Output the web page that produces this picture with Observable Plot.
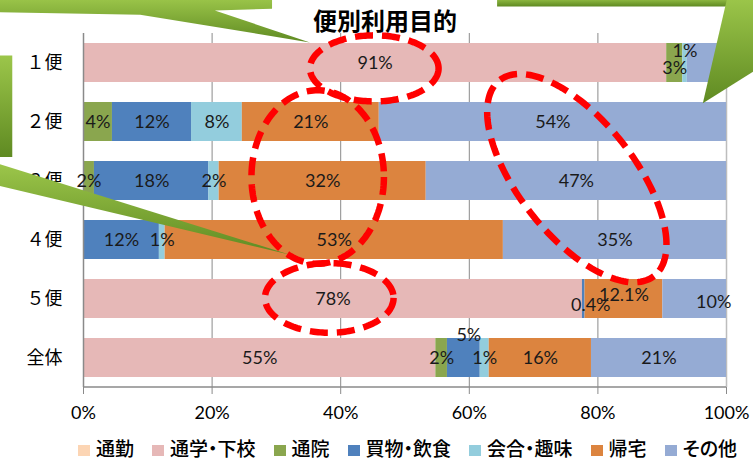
<!DOCTYPE html>
<html><head><meta charset="utf-8">
<script src="https://cdn.jsdelivr.net/npm/d3@7"></script>
<script src="https://cdn.jsdelivr.net/npm/@observablehq/plot@0.6"></script>
<style>
body{margin:0;background:#fff;}
#wrap{position:relative;width:753px;height:463px;}
#legend{position:absolute;left:78px;top:438px;display:flex;align-items:center;font-family:"Noto Sans CJK JP",sans-serif;font-size:19px;line-height:20px;font-weight:500;color:#000;white-space:nowrap;font-feature-settings:"palt";}
#legend .it{display:flex;align-items:center;margin-right:18px;height:20px;}
#legend .it span{display:block;height:20px;line-height:20px;}
#legend .sw{width:12px;height:11px;margin-right:6px;margin-top:4px;}
</style></head>
<body><div id="wrap"></div>
<script>
const title = "便別利用目的";
const rows = ["１便","２便","３便","４便","５便","全体"];
const categories = ["通勤","通学・下校","通院","買物・飲食","会合・趣味","帰宅","その他"];
const colors = ["#fcd5b4","#e6b8b7","#8aa64e","#4f81bd","#93cddd","#dc843f","#95abd4"];
const xTicks = [0,20,40,60,80,100];

// values (%) per category, in row order
const commute  = [0,0,0,0,0,0];
const school   = [90.7,0,0,0,77.6,54.8];
const hospital = [2.5,4.5,1.7,0,0,1.8];
const shopping = [0,12.3,17.8,11.8,0.4,5.1];
const hobby    = [0.7,7.9,1.6,0.9,0,1.4];
const home     = [0,21.3,32.2,52.6,12.1,15.9];
const other    = [6.1,54.0,46.7,34.7,9.9,21.0];

// data labels as printed
const commuteLbl  = ["","","","","",""];
const schoolLbl   = ["91%","","","","78%","55%"];
const hospitalLbl = ["3%","4%","2%","","","2%"];
const shoppingLbl = ["","12%","18%","12%","0.4%","5%"];
const hobbyLbl    = ["1%","8%","2%","1%","","1%"];
const homeLbl     = ["","21%","32%","53%","12.1%","16%"];
const otherLbl    = ["","54%","47%","35%","10%","21%"];

const series = [commute,school,hospital,shopping,hobby,home,other];
const seriesLbl = [commuteLbl,schoolLbl,hospitalLbl,shoppingLbl,hobbyLbl,homeLbl,otherLbl];

const data = [];
categories.forEach((c,ci)=>rows.forEach((r,ri)=>data.push({row:r,cat:c,value:series[ci][ri],label:seriesLbl[ci][ri]})));

// label nudges (overlapping labels in original)
const labelShift = {
  "１便|会合・趣味":[0,-12], "１便|通院":[0,5], "全体|買物・飲食":[5,-23],
  "５便|買物・飲食":[7,6], "５便|帰宅":[0,-4], "５便|その他":[19,3]
};
const shiftOf = d => labelShift[d.row+"|"+d.cat] || [0,0];
const groups = [[0,0], ...Object.values(labelShift)];
const same = (a,b)=>a[0]===b[0]&&a[1]===b[1];

const labelMarks = groups.map(g => Plot.text(data, Plot.stackX({
  x:"value", y:"row", z:"cat", order:categories,
  text: d => same(shiftOf(d), g) ? d.label : "",
  dx:g[0], dy:g[1], fill:"#1a1a1a", fontSize:18,
  fontFamily:"Lato, 'Noto Sans CJK JP', sans-serif"
})));

const chart = Plot.plot({
  width:753, height:463,
  marginLeft:83, marginRight:27, marginTop:33, marginBottom:76,
  style:{fontFamily:"Lato, 'Noto Sans CJK JP', sans-serif", color:"#000", background:"transparent", overflow:"hidden"},
  x:{domain:[0,100]},
  y:{domain:rows, paddingInner:0.34, paddingOuter:0.17},
  color:{domain:categories, range:colors},
  marks:[
    Plot.ruleX([20,40,60,80], {stroke:"#8a8a8a", strokeWidth:1}),
    Plot.ruleX([100], {stroke:"#bdbdbd", strokeWidth:1.5}),
    Plot.barX(data, Plot.stackX({x:"value", y:"row", fill:"cat", order:categories})),
    Plot.ruleX([0], {stroke:"#8a8a8a", strokeWidth:1.5}),
    Plot.axisX({ticks:xTicks, tickFormat:d=>d+"%", tickSize:7, tickPadding:12, fontSize:18, stroke:"#8a8a8a", label:null}),
    Plot.axisY({tickSize:0, tickPadding:21, fontSize:18, fontFamily:"'Noto Sans CJK JP', sans-serif", label:null}),
    Plot.text([title], {frameAnchor:"top", dx:-20, dy:-11, fontSize:24, fontWeight:"bold", fontFamily:"'Noto Sans CJK JP', sans-serif", fill:"#000", lineAnchor:"middle"}),
    ...labelMarks
  ]
});

// ---------- annotations (in data units: x = %, r = row index offset) ----------
const greenShapes = [
  [[-13,-1.1],[29.4,-1.1],[29.4,-0.91],[20.5,-0.88],[35.3,-0.34],[8.9,-0.81],[-13,-0.85]],
  [[-13,-0.12],[-11.0,-0.12],[-11.0,1.60],[-13,1.60]],
  [[-13,1.72],[32.2,3.26],[-13,2.09]],
  [[64.4,-1.1],[105,-1.1],[105,-0.95],[64.4,-0.95]],
  [[100.2,-1.1],[105,-1.1],[105,0.10],[96.4,0.69]]
];
// ellipses as [center, end of one semi-axis, end of conjugate semi-axis]
const ellipses = [
  [[45.3,0.10],[55.3,0.10],[45.3,0.66]],
  [[36.5,1.94],[46.8,1.94],[36.5,3.41]],
  [[38.3,3.99],[48.3,3.99],[38.3,4.58]],
  [[76.8,1.96],[88.8,3.62],[69.7,2.56]]
];

const xs = chart.scale("x"), ys = chart.scale("y");
const step = ys.apply(rows[1]) - ys.apply(rows[0]);
const px = p => xs.apply(p);
const py = r => ys.apply(rows[0]) + ys.bandwidth/2 + r*step;
const svg = d3.select(chart);

// x-axis baseline
svg.append("line").attr("x1",px(0)).attr("x2",px(100))
  .attr("y1",ys.range[1]).attr("y2",ys.range[1])
  .attr("stroke","#8a8a8a").attr("stroke-width",1.5);

const defs = svg.append("defs");
const gr = defs.append("linearGradient").attr("id","grn").attr("x1","0").attr("y1","0").attr("x2","0").attr("y2","1");
gr.append("stop").attr("offset","0").attr("stop-color","#9cc64a");
gr.append("stop").attr("offset","1").attr("stop-color","#5f8a22");

greenShapes.forEach(poly=>{
  svg.append("path")
    .attr("d","M"+poly.map(([a,b])=>px(a)+","+py(b)).join("L")+"Z")
    .attr("fill","url(#grn)");
});

ellipses.forEach(([c,a,b])=>{
  const C=[px(c[0]),py(c[1])], A=[px(a[0])-C[0],py(a[1])-C[1]], B=[px(b[0])-C[0],py(b[1])-C[1]];
  const pts=d3.range(0,181).map(i=>{const t=i/180*2*Math.PI;return [C[0]+Math.cos(t)*A[0]+Math.sin(t)*B[0], C[1]+Math.cos(t)*A[1]+Math.sin(t)*B[1]];});
  svg.append("path").attr("d","M"+pts.map(p=>p.join(",")).join("L")+"Z")
    .attr("fill","none").attr("stroke","#ff0000").attr("stroke-width",6.5)
    .attr("stroke-dasharray","18 9");
});

const wrap = document.getElementById("wrap");
wrap.appendChild(chart);
chart.style.position="absolute"; chart.style.left="0"; chart.style.top="0";

const legend = document.createElement("div");
legend.id="legend";
categories.forEach((c,i)=>{
  const it=document.createElement("div"); it.className="it";
  const sw=document.createElement("div"); sw.className="sw"; sw.style.background=colors[i];
  const tx=document.createElement("span"); tx.textContent=c;
  it.appendChild(sw); it.appendChild(tx); legend.appendChild(it);
});
wrap.appendChild(legend);
</script></body></html>
